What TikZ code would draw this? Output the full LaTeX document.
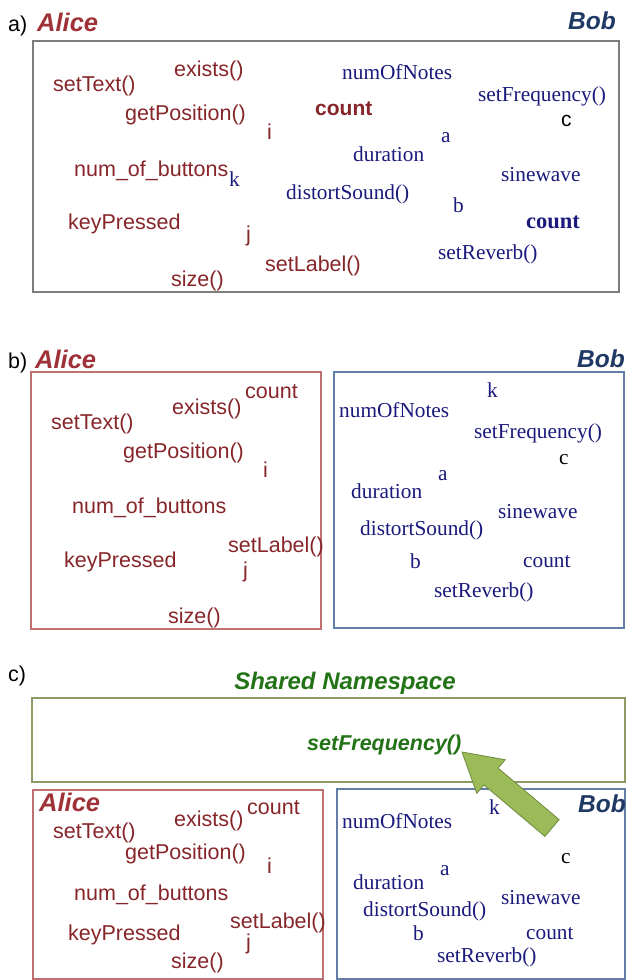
\documentclass[tikz,border=0pt]{standalone}
\usepackage{fontspec}
\setmainfont{Liberation Sans}
\newfontfamily\sansf{Liberation Sans}
\newfontfamily\seriff{Liberation Serif}
\usetikzlibrary{calc}
\definecolor{alicered}{RGB}{135,38,42}
\definecolor{alicelabel}{RGB}{158,50,56}
\definecolor{bobblue}{RGB}{26,26,125}
\definecolor{boblabel}{RGB}{31,56,100}
\definecolor{graybox}{RGB}{125,125,125}
\definecolor{aliceborder}{RGB}{192,112,112}
\definecolor{bobborder}{RGB}{100,125,168}
\definecolor{sharedborder}{RGB}{140,156,100}
\definecolor{sharedgreen}{RGB}{34,115,22}
\definecolor{arrowfill}{RGB}{155,187,89}
\definecolor{arrowline}{RGB}{113,137,63}
\tikzset{
  al/.style={anchor=base west, inner sep=0pt, text=alicered, font=\fontsize{21.5}{21.5}\selectfont\sansf},
  alb/.style={al, font=\fontsize{21}{21}\selectfont\sansf\bfseries},
  bo/.style={anchor=base west, inner sep=0pt, text=bobblue, font=\fontsize{21.3}{21.3}\selectfont\seriff},
  bob/.style={bo, font=\fontsize{22.5}{22.5}\selectfont\seriff\bfseries},
  blk/.style={anchor=base west, inner sep=0pt, text=black, font=\fontsize{21}{21}\selectfont\sansf},
  blks/.style={anchor=base west, inner sep=0pt, text=black, font=\fontsize{21.3}{21.3}\selectfont\seriff},
  alname/.style={anchor=base west, inner sep=0pt, text=alicelabel, font=\fontsize{25.5}{25.5}\selectfont\sansf\bfseries\itshape},
  bobname/.style={anchor=base west, inner sep=0pt, text=boblabel, font=\fontsize{24.5}{24.5}\selectfont\sansf\bfseries\itshape},
  greenname/.style={inner sep=0pt, text=sharedgreen, font=\fontsize{24}{24}\selectfont\sansf\bfseries\itshape},
  panel/.style={anchor=base west, inner sep=0pt, text=black, font=\fontsize{21.5}{21.5}\selectfont\sansf},
  boxline/.style={line width=1.1pt}
}
\begin{document}
\begin{tikzpicture}[x=1pt,y=-1pt]
\useasboundingbox[fill=white] (0,0) rectangle (628,980);

% ---------------- panel a ----------------
\node[panel] (pa) at (8,31) {a)};
\node[alname] (aliceA) at (37,31) {Alice};
\node[bobname] (bobA) at (568,29) {Bob};
\draw[boxline, draw=graybox] (33,41) rectangle (619,292);
\node[al] (a1) at (174,76) {exists()};
\node[al] (a2) at (53,91) {setText()};
\node[al] (a3) at (125,120) {getPosition()};
\node[al] (a4) at (267,139) {i};
\node[al] (a5) at (74,176) {num\_of\_buttons};
\node[bo] (a6) at (229,186) {k};
\node[al] (a7) at (68,229) {keyPressed};
\node[al] (a8) at (246,241) {j};
\node[al] (a9) at (265,271) {setLabel()};
\node[al] (a10) at (171,286) {size()};
\node[alb] (a11) at (315,115) {count};
\node[bo] (a12) at (342,79) {numOfNotes};
\node[bo] (a13) at (478,101) {setFrequency()};
\node[blk] (a14) at (561,126) {c};
\node[bo] (a15) at (441,142) {a};
\node[bo] (a16) at (353,161) {duration};
\node[bo] (a17) at (501,181) {sinewave};
\node[bo] (a18) at (286,199) {distortSound()};
\node[bo] (a19) at (453,212) {b};
\node[bob] (a20) at (526,228) {count};
\node[bo] (a21) at (438,259) {setReverb()};

% ---------------- panel b ----------------
\node[panel] (pb) at (8,368) {b)};
\node[alname] (aliceB) at (35,368) {Alice};
\node[bobname] (bobB) at (577,367) {Bob};
\draw[boxline, draw=aliceborder] (31,372) rectangle (321,629);
\draw[boxline, draw=bobborder] (334,372) rectangle (624,628);
\node[al] (b1) at (245,398) {count};
\node[al] (b2) at (172,414) {exists()};
\node[al] (b3) at (51,429) {setText()};
\node[al] (b4) at (123,458) {getPosition()};
\node[al] (b5) at (263,477) {i};
\node[al] (b6) at (72,513) {num\_of\_buttons};
\node[al] (b7) at (228,552) {setLabel()};
\node[al] (b8) at (64,567) {keyPressed};
\node[al] (b9) at (243,577) {j};
\node[al] (b10) at (168,623) {size()};
\node[bo] (b11) at (487,397) {k};
\node[bo] (b12) at (339,417) {numOfNotes};
\node[bo] (b13) at (474,438) {setFrequency()};
\node[blks] (b14) at (559,464) {c};
\node[bo] (b15) at (438,480) {a};
\node[bo] (b16) at (351,498) {duration};
\node[bo] (b17) at (498,518) {sinewave};
\node[bo] (b18) at (360,535) {distortSound()};
\node[bo] (b19) at (410,568) {b};
\node[bo] (b20) at (523,567) {count};
\node[bo] (b21) at (434,597) {setReverb()};

% ---------------- panel c ----------------
\node[panel] (pc) at (8,681) {c)};
\node[greenname, anchor=base] (shared) at (345,689) {Shared Namespace};
\draw[boxline, draw=sharedborder] (32,698) rectangle (625,782);
\node[greenname, anchor=base west, font=\fontsize{21.5}{21.5}\selectfont\sansf\bfseries\itshape] (sf) at (307,750) {setFrequency()};
\draw[boxline, draw=aliceborder] (33,790) rectangle (323,979);
\draw[boxline, draw=bobborder] (337,789) rectangle (625,979);
\node[alname] (aliceC) at (39,811) {Alice};
\node[bobname] (bobC) at (578,812) {Bob};
\node[al] (c1) at (247,814) {count};
\node[al] (c2) at (174,826) {exists()};
\node[al] (c3) at (53,838) {setText()};
\node[al] (c4) at (125,859) {getPosition()};
\node[al] (c5) at (267,873) {i};
\node[al] (c6) at (74,900) {num\_of\_buttons};
\node[al] (c7) at (230,928) {setLabel()};
\node[al] (c8) at (68,940) {keyPressed};
\node[al] (c9) at (246,949) {j};
\node[al] (c10) at (171,968) {size()};
\node[bo] (c11) at (489,814) {k};
\node[bo] (c12) at (342,828) {numOfNotes};
\node[blks] (c13) at (561,863) {c};
\node[bo] (c14) at (440,875) {a};
\node[bo] (c15) at (353,889) {duration};
\node[bo] (c16) at (501,904) {sinewave};
\node[bo] (c17) at (363,916) {distortSound()};
\node[bo] (c18) at (413,940) {b};
\node[bo] (c19) at (526,939) {count};
\node[bo] (c20) at (437,962) {setReverb()};

% block arrow
\coordinate (tip) at (462,752);
\coordinate (tail) at (552,828);
\fill[arrowfill, draw=arrowline, line width=0.8pt, line join=miter]
  (tip) -- (505.2,759.7) -- (498.1,768.1) -- (559.1,819.6) -- (544.9,836.4)
  -- (483.9,784.9) -- (476.8,793.3) -- cycle;
\end{tikzpicture}
\end{document}
